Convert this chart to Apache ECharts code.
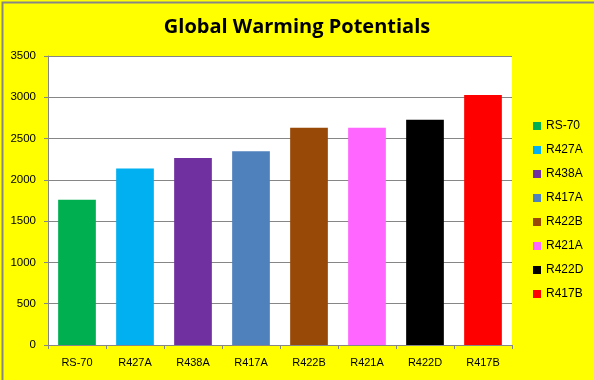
<!DOCTYPE html>
<html><head><meta charset="utf-8">
<script src="https://cdn.jsdelivr.net/npm/echarts@6/dist/echarts.min.js"></script>
<style>html,body{margin:0;padding:0;background:#ffff00}#c{width:594px;height:380px}</style>
</head><body><div id="c"></div>
<script>
const categories = ['RS-70','R427A','R438A','R417A','R422B','R421A','R422D','R417B'];
const values = [1760, 2138, 2265, 2346, 2630, 2631, 2729, 3027];
const colors = ['#00b050','#00b0f0','#7030a0','#4f81bd','#984807','#ff66ff','#000000','#ff0000'];
const yTicks = [0,500,1000,1500,2000,2500,3000,3500];

const FONT = 'Liberation Sans';
const chart = echarts.init(document.getElementById('c'), null, {renderer:'canvas'});
const series = categories.map((name, i) => ({
  name: name,
  type: 'bar',
  stack: 'all',
  barWidth: '65%',
  itemStyle: {color: colors[i]},
  data: categories.map((c, j) => j === i ? values[i] : null)
}));
chart.setOption({
  backgroundColor: '#ffff00',
  animation: false,
  title: {
    text: 'Global Warming Potentials',
    left: 'center', top: 12,
    textStyle: {fontFamily: 'Open Sans', fontWeight: 'bold', fontSize: 20, color: '#000'}
  },
  graphic: [{type:'rect', left:0, top:0, shape:{width:593, height:379}, style:{fill:'none', stroke:'#868686', lineWidth:2}, z:100}],
  legend: {
    orient: 'vertical', left: 528, top: 115,
    itemWidth: 8, itemHeight: 8, itemGap: 12, icon: 'rect',
    textStyle: {fontFamily: FONT, fontSize: 12, lineHeight: 12, color: '#000', padding:[0,0,0,0]},
    data: categories
  },
  grid: {left: 48, right: 82, top: 56, bottom: 35, backgroundColor: '#ffffff', show: true, borderWidth: 0},
  xAxis: {
    type: 'category', data: categories,
    axisLine: {lineStyle: {color: '#868686'}},
    axisTick: {show: true, length: 4, lineStyle: {color: '#868686'}},
    axisLabel: {fontFamily: FONT, fontSize: 11, color: '#000', margin: 12}
  },
  yAxis: {
    type: 'value', min: 0, max: 3500, interval: 500,
    axisLine: {show: true, lineStyle: {color: '#868686'}},
    axisTick: {show: true, length: 4, inside: false, lineStyle: {color: '#868686'}},
    axisLabel: {fontFamily: FONT, fontSize: 11.5, color: '#000', margin: 12,
      formatter: v => yTicks.includes(v) ? String(v) : ''},
    splitLine: {lineStyle: {color: '#868686'}}
  },
  series: series
});
</script></body></html>
